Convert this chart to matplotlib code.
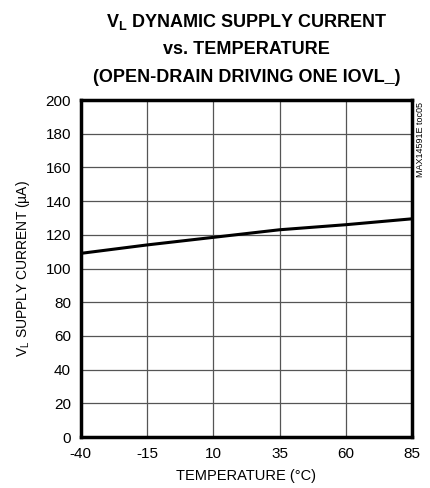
import matplotlib.pyplot as plt

# data
temp = [-40, -15, 10, 35, 60, 85]
current = [109, 114, 118.5, 123, 126, 129.5]
xticks = [-40, -15, 10, 35, 60, 85]
yticks = list(range(0, 201, 20))

plt.rcParams["font.family"] = ["Liberation Sans", "DejaVu Sans"]
plt.rcParams["axes.unicode_minus"] = False

fig = plt.figure(figsize=(4.30, 4.88), dpi=100)
ax = fig.add_axes([0.188, 0.1045, 0.770, 0.6905])

ax.plot(temp, current, color="black", linewidth=2.2)

ax.set_xlim(-40, 85)
ax.set_ylim(0, 200)
ax.set_xticks(xticks)
ax.set_yticks(yticks)
ax.tick_params(length=0, labelsize=11, pad=7)
ax.grid(True, color="#555555", linewidth=0.9)
ax.set_axisbelow(True)
for s in ax.spines.values():
    s.set_linewidth(2.5)

ax.set_xlabel("TEMPERATURE (°C)", fontsize=10.5, labelpad=6)
ax.set_ylabel("V$_\\mathregular{L}$ SUPPLY CURRENT (µA)", fontsize=10, labelpad=10)

cx = 0.188 + 0.770 / 2
fig.text(cx, 0.955, "V$_\\mathregular{L}$ DYNAMIC SUPPLY CURRENT", ha="center", va="center",
         fontsize=13, fontweight="bold")
fig.text(cx, 0.898, "vs. TEMPERATURE", ha="center", va="center", fontsize=13, fontweight="bold")
fig.text(cx, 0.842, "(OPEN-DRAIN DRIVING ONE IOVL_)", ha="center", va="center",
         fontsize=13, fontweight="bold")

fig.text(0.979, 0.791, "MAX14591E toc05", rotation=90, ha="center", va="top", fontsize=6.5)

fig.savefig("out.png", dpi=100)
